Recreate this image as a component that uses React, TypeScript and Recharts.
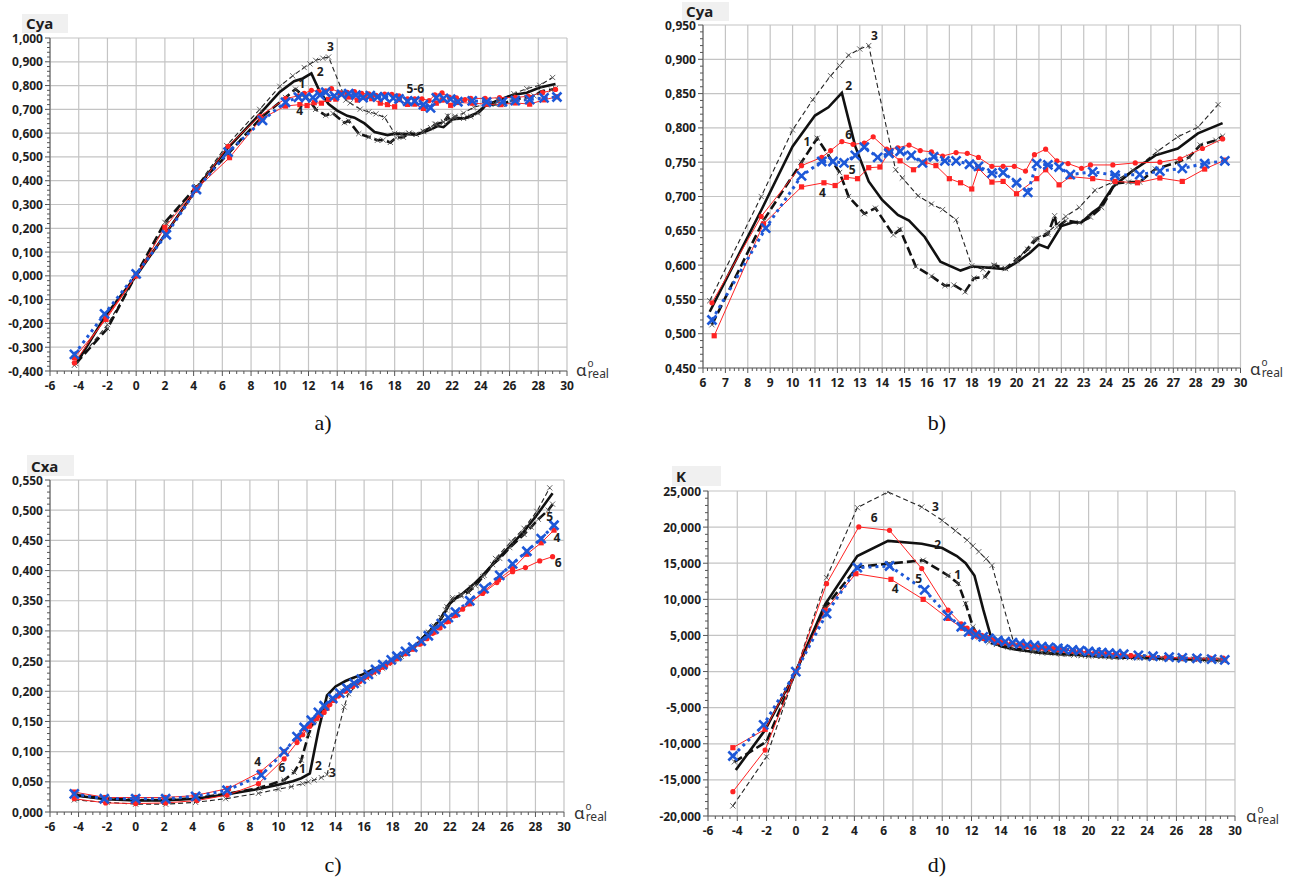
import React from 'react';
import { CartesianGrid, Line, LineChart, ReferenceDot, XAxis, YAxis } from 'recharts';

// angle of attack for each model (1..6)
const alpha1 = [-4.2, -2.0, 0, 2.0, 4.2, 6.4, 8.7, 10.4, 11.1, 11.6, 12.1, 12.5, 13.2, 13.7, 14.5, 14.8, 15.5, 16.2, 16.8, 17.2, 17.7, 18.1, 18.6, 19.0, 19.5, 20.0, 20.5, 20.9, 21.4, 21.7, 21.8, 22.2, 22.8, 23.3, 23.8, 24.4, 25.0, 25.5, 26.2, 27.2, 27.7, 28.2, 28.9, 29.2];
const cya1 = [-0.369, -0.221, 0.005, 0.225, 0.375, 0.513, 0.665, 0.750, 0.785, 0.760, 0.735, 0.700, 0.675, 0.683, 0.644, 0.652, 0.598, 0.584, 0.570, 0.571, 0.561, 0.581, 0.583, 0.600, 0.595, 0.608, 0.623, 0.638, 0.645, 0.672, 0.655, 0.665, 0.662, 0.670, 0.684, 0.719, 0.721, 0.721, 0.740, 0.750, 0.757, 0.775, 0.782, 0.788];
const cxa1 = [0.028, 0.022, 0.020, 0.020, 0.023, 0.030, 0.040, 0.053, 0.066, 0.086, 0.128, 0.152, 0.172, 0.185, 0.200, 0.207, 0.215, 0.226, 0.234, 0.240, 0.246, 0.252, 0.258, 0.264, 0.272, 0.286, 0.298, 0.308, 0.322, 0.335, 0.340, 0.352, 0.358, 0.364, 0.375, 0.392, 0.410, 0.420, 0.438, 0.460, 0.472, 0.485, 0.500, 0.510];
const k1 = [-12.5, -9.7, 0, 8.85, 14.49, 14.95, 15.41, 13.3, 12.18, 9.4, 6.19, 4.7, 4.05, 3.75, 3.4, 3.25, 3.0, 2.75, 2.62, 2.57, 2.5, 2.42, 2.37, 2.33, 2.27, 2.2, 2.15, 2.1, 2.05, 2.02, 2.0, 1.97, 1.95, 1.93, 1.91, 1.87, 1.84, 1.8, 1.76, 1.71, 1.68, 1.65, 1.6, 1.56];

const alpha2 = [-4.1, -2.1, 0, 2.0, 4.2, 6.3, 8.6, 10.0, 11.0, 11.6, 12.2, 12.8, 13.4, 14.0, 14.7, 15.2, 15.9, 16.6, 17.5, 18.0, 18.9, 19.5, 20.1, 20.6, 21.0, 21.4, 22.0, 22.5, 22.9, 23.4, 23.7, 24.3, 25.2, 26.2, 27.2, 28.1, 29.2];
const cya2 = [-0.362, -0.165, 0.0, 0.173, 0.365, 0.532, 0.680, 0.773, 0.818, 0.830, 0.851, 0.773, 0.722, 0.695, 0.673, 0.665, 0.641, 0.605, 0.592, 0.598, 0.596, 0.594, 0.606, 0.618, 0.630, 0.625, 0.657, 0.662, 0.662, 0.677, 0.684, 0.714, 0.738, 0.760, 0.770, 0.792, 0.807];
const cxa2 = [0.027, 0.021, 0.019, 0.019, 0.022, 0.029, 0.038, 0.045, 0.051, 0.056, 0.064, 0.135, 0.193, 0.208, 0.217, 0.222, 0.228, 0.236, 0.245, 0.252, 0.262, 0.272, 0.288, 0.300, 0.310, 0.320, 0.345, 0.356, 0.362, 0.372, 0.378, 0.392, 0.415, 0.440, 0.465, 0.492, 0.528];
const k2 = [-13.63, -8.1, 0, 9.3, 16.0, 18.09, 17.7, 17.1, 16.0, 15.0, 13.3, 8.6, 4.3, 3.5, 3.15, 3.0, 2.82, 2.62, 2.48, 2.42, 2.33, 2.25, 2.15, 2.1, 2.05, 2.0, 1.96, 1.93, 1.92, 1.9, 1.88, 1.85, 1.8, 1.74, 1.68, 1.62, 1.56];

const alpha3 = [-4.3, -2.0, 0, 2.1, 4.2, 6.3, 8.6, 10.0, 10.9, 11.7, 12.1, 12.5, 13.0, 13.4, 14.6, 14.9, 15.6, 16.2, 16.7, 17.3, 18.0, 18.5, 19.0, 19.5, 20.0, 20.8, 21.4, 22.2, 22.8, 23.5, 24.3, 25.2, 26.3, 27.2, 28.1, 29.0];
const cya3 = [-0.376, -0.205, 0.0, 0.220, 0.375, 0.548, 0.700, 0.797, 0.841, 0.876, 0.891, 0.906, 0.915, 0.920, 0.739, 0.727, 0.701, 0.689, 0.681, 0.666, 0.599, 0.594, 0.599, 0.595, 0.606, 0.638, 0.648, 0.671, 0.684, 0.709, 0.721, 0.738, 0.766, 0.787, 0.801, 0.834];
const cxa3 = [0.020, 0.016, 0.013, 0.013, 0.016, 0.022, 0.031, 0.038, 0.042, 0.047, 0.050, 0.053, 0.057, 0.062, 0.174, 0.196, 0.212, 0.222, 0.230, 0.238, 0.250, 0.257, 0.264, 0.272, 0.285, 0.305, 0.322, 0.355, 0.360, 0.372, 0.390, 0.420, 0.448, 0.470, 0.498, 0.537];
const k3 = [-18.6, -11.8, 0, 13.0, 22.7, 24.86, 22.79, 20.94, 19.5, 18.2, 17.4, 16.6, 15.6, 14.7, null, 3.89, 3.3, 3.05, 2.9, 2.75, 2.5, 2.4, 2.3, 2.22, 2.14, 2.08, 2.02, 1.95, 1.92, 1.9, 1.86, 1.8, 1.74, 1.68, 1.62, 1.56];

const alpha4 = [-4.3, -2.1, 0, 2.0, 4.1, 6.5, 8.7, 10.4, 11.4, 11.9, 12.4, 12.9, 13.4, 13.9, 14.3, 14.8, 15.4, 15.9, 16.4, 17.0, 17.5, 18.0, 18.3, 18.9, 19.4, 20.0, 20.9, 21.3, 21.9, 22.4, 23.4, 24.4, 25.4, 26.4, 27.4, 28.4, 29.3];
const cya4 = [-0.344, -0.183, 0.0, 0.204, 0.360, 0.497, 0.660, 0.714, 0.720, 0.716, 0.728, 0.726, 0.742, 0.743, 0.765, 0.752, 0.739, 0.750, 0.745, 0.726, 0.720, 0.711, 0.741, 0.721, 0.722, 0.704, 0.726, 0.739, 0.717, 0.729, 0.726, 0.722, 0.720, 0.727, 0.722, 0.740, 0.753];
const cxa4 = [0.033, 0.024, 0.024, 0.024, 0.027, 0.039, 0.066, 0.100, 0.124, 0.138, 0.150, 0.160, 0.172, 0.185, 0.195, 0.203, 0.212, 0.220, 0.228, 0.236, 0.243, 0.250, 0.255, 0.263, 0.270, 0.280, 0.298, 0.306, 0.316, 0.326, 0.345, 0.366, 0.385, 0.403, 0.427, 0.446, 0.467];
const k4 = [-10.54, -8.0, 0, 8.48, 13.55, 12.77, 10.0, 7.36, 6.0, 5.3, 4.9, 4.6, 4.4, 4.1, 4.0, 3.85, 3.65, 3.5, 3.4, 3.25, 3.15, 3.05, 3.0, 2.9, 2.8, 2.65, 2.55, 2.5, 2.4, 2.35, 2.2, 2.05, 1.95, 1.88, 1.78, 1.72, 1.62];

const alpha5 = [-4.3, -2.2, 0, 2.1, 4.2, 6.4, 8.8, 10.4, 11.3, 11.8, 12.3, 12.8, 13.2, 13.8, 14.3, 14.8, 15.3, 15.8, 16.3, 16.8, 17.3, 17.9, 18.3, 18.9, 19.4, 20.0, 20.5, 20.9, 21.4, 21.9, 22.4, 23.4, 24.4, 25.5, 26.4, 27.4, 28.4, 29.3];
const cya5 = [-0.330, -0.160, 0.008, 0.173, 0.363, 0.520, 0.654, 0.730, 0.751, 0.751, 0.749, 0.760, 0.772, 0.757, 0.763, 0.766, 0.760, 0.749, 0.758, 0.752, 0.752, 0.747, 0.744, 0.734, 0.735, 0.720, 0.706, 0.748, 0.746, 0.743, 0.732, 0.736, 0.731, 0.732, 0.737, 0.741, 0.748, 0.752];
const cxa5 = [0.030, 0.022, 0.022, 0.022, 0.026, 0.036, 0.061, 0.100, 0.125, 0.140, 0.152, 0.165, 0.176, 0.188, 0.197, 0.205, 0.213, 0.220, 0.228, 0.236, 0.244, 0.252, 0.258, 0.266, 0.273, 0.283, 0.292, 0.303, 0.312, 0.322, 0.331, 0.350, 0.370, 0.392, 0.411, 0.432, 0.453, 0.475];
const k5 = [-11.69, -7.38, 0, 8.02, 14.38, 14.61, 11.3, 7.7, 6.2, 5.5, 5.1, 4.8, 4.6, 4.3, 4.15, 4.0, 3.85, 3.7, 3.6, 3.45, 3.35, 3.2, 3.1, 3.0, 2.9, 2.78, 2.68, 2.62, 2.55, 2.48, 2.4, 2.25, 2.12, 2.0, 1.9, 1.82, 1.72, 1.62];

const alpha6 = [-4.3, -2.1, 0, 2.1, 4.3, 6.4, 8.6, 10.4, 11.3, 11.7, 12.2, 12.7, 13.2, 13.6, 14.2, 14.7, 15.2, 15.7, 16.2, 16.7, 17.3, 17.8, 18.3, 18.9, 19.4, 19.9, 20.4, 20.8, 21.3, 21.8, 22.3, 22.9, 23.3, 24.3, 25.3, 26.4, 27.3, 28.3, 29.2];
const cya6 = [-0.366, -0.175, 0.0, 0.183, 0.370, 0.545, 0.671, 0.745, 0.757, 0.767, 0.780, 0.776, 0.778, 0.787, 0.769, 0.771, 0.775, 0.767, 0.765, 0.759, 0.764, 0.763, 0.757, 0.744, 0.744, 0.744, 0.737, 0.761, 0.769, 0.752, 0.748, 0.741, 0.746, 0.746, 0.749, 0.750, 0.755, 0.770, 0.784];
const cxa6 = [0.022, 0.015, 0.014, 0.015, 0.019, 0.028, 0.047, 0.088, 0.115, 0.128, 0.142, 0.155, 0.165, 0.178, 0.192, 0.200, 0.208, 0.216, 0.224, 0.232, 0.240, 0.247, 0.254, 0.262, 0.270, 0.278, 0.287, 0.296, 0.305, 0.315, 0.325, 0.336, 0.345, 0.362, 0.380, 0.398, 0.405, 0.416, 0.423];
const k6 = [-16.63, -10.87, 0, 12.17, 20.02, 19.55, 14.26, 8.5, 6.6, 6.0, 5.5, 5.0, 4.7, 4.4, 4.0, 3.85, 3.7, 3.55, 3.4, 3.27, 3.18, 3.09, 2.98, 2.84, 2.76, 2.68, 2.57, 2.57, 2.52, 2.39, 2.3, 2.2, 2.16, 2.06, 1.97, 1.88, 1.86, 1.85, 1.85];

// axis ticks
const X_MAJOR_WIDE = [-6, -4, -2, 0, 2, 4, 6, 8, 10, 12, 14, 16, 18, 20, 22, 24, 26, 28, 30];
const X_MAJOR_ZOOM = [6, 7, 8, 9, 10, 11, 12, 13, 14, 15, 16, 17, 18, 19, 20, 21, 22, 23, 24, 25, 26, 27, 28, 29, 30];
const Y_MAJOR_CYA = [-0.4, -0.3, -0.2, -0.1, 0, 0.1, 0.2, 0.3, 0.4, 0.5, 0.6, 0.7, 0.8, 0.9, 1.0];
const Y_MAJOR_CYA_ZOOM = [0.45, 0.5, 0.55, 0.6, 0.65, 0.7, 0.75, 0.8, 0.85, 0.9, 0.95];
const Y_MAJOR_CXA = [0, 0.05, 0.1, 0.15, 0.2, 0.25, 0.3, 0.35, 0.4, 0.45, 0.5, 0.55];
const Y_MAJOR_K = [-20, -15, -10, -5, 0, 5, 10, 15, 20, 25];

// curve number annotations
const NOTES_A = [
  { x: 13.52, y: 0.962, t: '3' },
  { x: 12.82, y: 0.859, t: '2' },
  { x: 11.55, y: 0.807, t: '1' },
  { x: 11.38, y: 0.694, t: '4' },
  { x: 19.44, y: 0.786, t: '5-6' },
];
const NOTES_B = [
  { x: 13.66, y: 0.935, t: '3' },
  { x: 12.51, y: 0.861, t: '2' },
  { x: 10.64, y: 0.78, t: '1' },
  { x: 12.51, y: 0.79, t: '6' },
  { x: 12.66, y: 0.739, t: '5' },
  { x: 11.33, y: 0.705, t: '4' },
];
const NOTES_C = [
  { x: 8.54, y: 0.083, t: '4' },
  { x: 10.24, y: 0.0735, t: '6' },
  { x: 11.68, y: 0.072, t: '1' },
  { x: 12.8, y: 0.076, t: '2' },
  { x: 13.78, y: 0.065, t: '3' },
  { x: 29.0, y: 0.489, t: '5' },
  { x: 29.5, y: 0.455, t: '4' },
  { x: 29.6, y: 0.413, t: '6' },
];
const NOTES_D = [
  { x: 9.53, y: 22.8, t: '3' },
  { x: 5.35, y: 21.3, t: '6' },
  { x: 9.69, y: 17.6, t: '2' },
  { x: 11.06, y: 13.4, t: '1' },
  { x: 8.39, y: 12.9, t: '5' },
  { x: 6.79, y: 11.5, t: '4' },
];

type Pt = { x: number; y: number | null };
type Note = { x: number; y: number; t: string };

const zip = (xs: number[], ys: (number | null)[]): Pt[] => xs.map((x, i) => ({ x, y: ys[i] }));

const ALPHAS = [alpha1, alpha2, alpha3, alpha4, alpha5, alpha6];
const CYA = [cya1, cya2, cya3, cya4, cya5, cya6];
const CXA = [cxa1, cxa2, cxa3, cxa4, cxa5, cxa6];
const KK = [k1, k2, k3, k4, k5, k6];

const FONT = '"Noto Sans", "DejaVu Sans", sans-serif';
const TICK_STYLE = { fontFamily: FONT, fontSize: 12, fontWeight: 700, fill: '#1e1e1e' };
const RED = '#ff2323';
const BLUE = '#1d58d8';

const range = (a: number, b: number, s: number) => {
  const n = Math.round((b - a) / s);
  const out: number[] = [];
  for (let i = 0; i <= n; i++) out.push(Math.round((a + i * s) * 1e6) / 1e6);
  return out;
};
const isMajor = (major: number[], v: number) => major.some((m) => Math.abs(m - v) < 1e-6);
const fmt3 = (v: number) => (Math.abs(v) < 1e-9 ? 0 : v).toFixed(3).replace('.', ',');

function XTick(props: any) {
  const { x, y, payload, major } = props;
  const big = isMajor(major, payload.value);
  return (
    <g>
      <line x1={x} x2={x} y1={y} y2={y + (big ? 5 : 3)} stroke="#555" strokeWidth={1} />
      {big && (
        <text x={x} y={y + 19} textAnchor="middle" style={TICK_STYLE}>
          {String(payload.value)}
        </text>
      )}
    </g>
  );
}

function YTick(props: any) {
  const { x, y, payload, major } = props;
  const big = isMajor(major, payload.value);
  return (
    <g>
      <line x1={x - (big ? 5 : 3)} x2={x} y1={y} y2={y} stroke="#555" strokeWidth={1} />
      {big && (
        <text x={x - 7} y={y + 4.5} textAnchor="end" style={TICK_STYLE}>
          {fmt3(payload.value)}
        </text>
      )}
    </g>
  );
}

function dotFor(id: number) {
  return (p: any) => {
    const { cx, cy, index } = p;
    const key = `d${id}-${index}`;
    if (cx == null || cy == null || Number.isNaN(cy)) return <g key={key} />;
    if (id === 1 || id === 3) {
      const s = 2.6;
      return (
        <path key={key} d={`M${cx - s},${cy - s}L${cx + s},${cy + s}M${cx - s},${cy + s}L${cx + s},${cy - s}`} stroke="#555" strokeWidth={0.9} fill="none" />
      );
    }
    if (id === 4) return <rect key={key} x={cx - 2.6} y={cy - 2.6} width={5.2} height={5.2} fill={RED} />;
    if (id === 6) return <circle key={key} cx={cx} cy={cy} r={2.6} fill={RED} />;
    if (id === 5) {
      const s = 4.5;
      return (
        <path key={key} d={`M${cx - s},${cy - s}L${cx + s},${cy + s}M${cx - s},${cy + s}L${cx + s},${cy - s}`} stroke={BLUE} strokeWidth={2.6} fill="none" />
      );
    }
    return <g key={key} />;
  };
}

const LINE_STYLE: Record<number, { stroke: string; width: number; dash?: string; dots: boolean }> = {
  1: { stroke: '#111', width: 2.6, dash: '9 4', dots: true },
  2: { stroke: '#111', width: 2.6, dots: false },
  3: { stroke: '#222', width: 1.1, dash: '5 3', dots: true },
  4: { stroke: RED, width: 1, dots: true },
  5: { stroke: BLUE, width: 3, dash: '3 4', dots: true },
  6: { stroke: RED, width: 1, dots: true },
};
const DRAW_ORDER = [3, 2, 1, 4, 6, 5];

type PanelProps = {
  left: number;
  top: number;
  width: number;
  height: number;
  yWidth: number;
  xHeight: number;
  mTop: number;
  mRight: number;
  xDomain: [number, number];
  yDomain: [number, number];
  xMajor: number[];
  xStep: number;
  yMajor: number[];
  yStep: number;
  values: (number | null)[][];
  minAlpha?: number;
  notes: Note[];
};

function Panel(p: PanelProps) {
  const xTicks = range(p.xDomain[0], p.xDomain[1], p.xStep);
  const yTicks = range(p.yDomain[0], p.yDomain[1], p.yStep);
  return (
    <div style={{ position: 'absolute', left: p.left, top: p.top }}>
      <LineChart width={p.width} height={p.height} margin={{ top: p.mTop, right: p.mRight, bottom: 0, left: 0 }}>
        <CartesianGrid stroke="#c4c4c4" strokeWidth={1.2} verticalValues={p.xMajor} horizontalValues={p.yMajor} />
        <XAxis
          type="number"
          dataKey="x"
          domain={p.xDomain}
          ticks={xTicks}
          interval={0}
          allowDataOverflow
          height={p.xHeight}
          tickSize={0}
          tickMargin={0}
          tickLine={false}
          axisLine={{ stroke: '#6b6b6b', strokeWidth: 1.2 }}
          tick={(t: any) => <XTick {...t} major={p.xMajor} />}
        />
        <YAxis
          type="number"
          dataKey="y"
          domain={p.yDomain}
          ticks={yTicks}
          interval={0}
          allowDataOverflow
          width={p.yWidth}
          tickSize={0}
          tickMargin={0}
          tickLine={false}
          axisLine={{ stroke: '#6b6b6b', strokeWidth: 1.2 }}
          tick={(t: any) => <YTick {...t} major={p.yMajor} />}
        />
        {DRAW_ORDER.map((id) => {
          const st = LINE_STYLE[id];
          let pts = zip(ALPHAS[id - 1], p.values[id - 1]);
          if (p.minAlpha !== undefined) pts = pts.filter((q) => q.x >= (p.minAlpha as number));
          return (
            <Line
              key={id}
              data={pts}
              dataKey="y"
              type="linear"
              stroke={st.stroke}
              strokeWidth={st.width}
              strokeDasharray={st.dash}
              dot={st.dots ? dotFor(id) : false}
              activeDot={false}
              connectNulls
              isAnimationActive={false}
            />
          );
        })}
        {p.notes.map((n, i) => (
          <ReferenceDot
            key={`n${i}`}
            x={n.x}
            y={n.y}
            r={0}
            fill="none"
            stroke="none"
            label={{ value: n.t, position: 'center', fill: '#1e1e1e', fontSize: 12, fontWeight: 700, fontFamily: FONT }}
          />
        ))}
      </LineChart>
    </div>
  );
}

// "α" with a superscript "o" and subscript "real", as one text element
function AlphaLabel({ x, y }: { x: number; y: number }) {
  return (
    <text x={x} y={y} fill="#333" fontFamily={FONT}>
      <tspan fontSize={17}>α</tspan>
      <tspan fontSize={10} dx={1} dy={-9}>o</tspan>
      <tspan fontSize={12} dx={-6} dy={11}>real</tspan>
    </text>
  );
}

function TitleBox({ x, y, w, h, text }: { x: number; y: number; w: number; h: number; text: string }) {
  return (
    <g>
      <rect x={x} y={y} width={w} height={h} fill="#f0f0f0" />
      <text x={x + 4} y={y + h - 4} fontFamily={FONT} fontSize={15} fontWeight={700} fill="#1e1e1e">
        {text}
      </text>
    </g>
  );
}

export default function App() {
  return (
    <div style={{ position: 'absolute', left: 0, top: 0, width: 1295, height: 880, background: '#fff', overflow: 'hidden' }}>
      <Panel
        left={0} top={0} width={580} height={400} yWidth={50} xHeight={29} mTop={38} mRight={13}
        xDomain={[-6, 30]} yDomain={[-0.4, 1.0]} xMajor={X_MAJOR_WIDE} xStep={0.5} yMajor={Y_MAJOR_CYA} yStep={0.02}
        values={CYA} notes={NOTES_A}
      />
      <Panel
        left={650} top={0} width={610} height={400} yWidth={53} xHeight={32} mTop={25} mRight={19.5}
        xDomain={[6, 30]} yDomain={[0.45, 0.95]} xMajor={X_MAJOR_ZOOM} xStep={0.2} yMajor={Y_MAJOR_CYA_ZOOM} yStep={0.01}
        values={CYA} minAlpha={6} notes={NOTES_B}
      />
      <Panel
        left={0} top={440} width={580} height={400} yWidth={50} xHeight={28} mTop={40} mRight={16}
        xDomain={[-6, 30]} yDomain={[0, 0.55]} xMajor={X_MAJOR_WIDE} xStep={0.5} yMajor={Y_MAJOR_CXA} yStep={0.01}
        values={CXA} notes={NOTES_C}
      />
      <Panel
        left={650} top={440} width={600} height={400} yWidth={58} xHeight={24} mTop={51} mRight={15}
        xDomain={[-6, 30]} yDomain={[-20, 25]} xMajor={X_MAJOR_WIDE} xStep={0.5} yMajor={Y_MAJOR_K} yStep={1}
        values={KK} notes={NOTES_D}
      />
      <svg width={1295} height={880} style={{ position: 'absolute', left: 0, top: 0, pointerEvents: 'none' }}>
        <TitleBox x={22} y={14} w={46} h={19} text="Cya" />
        <TitleBox x={682} y={2} w={47} h={19} text="Cya" />
        <TitleBox x={27} y={455} w={47} h={21} text="Cxa" />
        <TitleBox x={672} y={466} w={49} h={20} text="K" />
        <AlphaLabel x={576} y={376} />
        <AlphaLabel x={1250} y={375} />
        <AlphaLabel x={574} y={819} />
        <AlphaLabel x={1246} y={822} />
        <g fontFamily='"Liberation Serif", "Times New Roman", serif' fontSize={22} fill="#111" textAnchor="middle">
          <text x={323} y={430}>a)</text>
          <text x={937} y={430}>b)</text>
          <text x={333} y={872}>c)</text>
          <text x={937} y={872}>d)</text>
        </g>
      </svg>
    </div>
  );
}
